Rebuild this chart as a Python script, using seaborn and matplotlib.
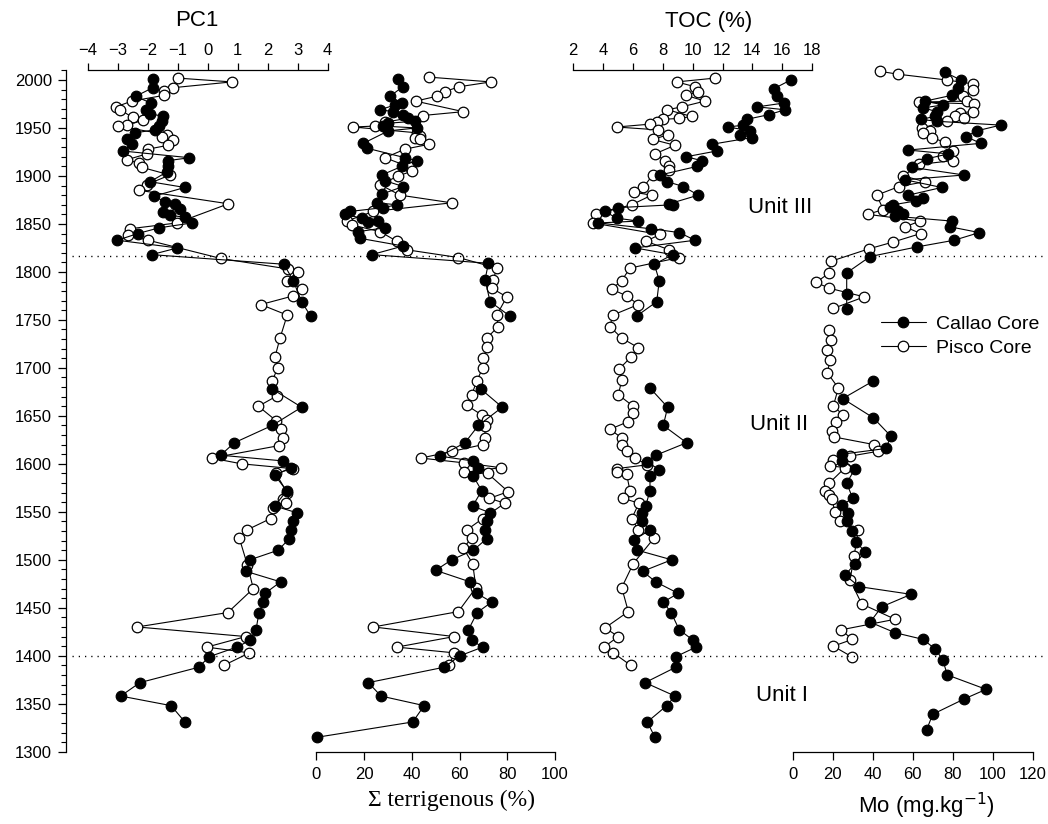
import numpy as np
import pandas as pd
import matplotlib
matplotlib.use("Agg")
import matplotlib.pyplot as plt
from matplotlib.lines import Line2D
from matplotlib.ticker import MultipleLocator
import seaborn as sns

nan = np.nan

# ---------------- DATA ----------------
# PC1
pc1_callao_year = [2001, 1992, 1983, 1976, 1969, 1965, 1962, 1957, 1952, 1948, 1945, 1939, 1933, 1926,
                   1919, 1916, 1910, 1904, 1894, 1888, 1879, 1873, 1871, 1866, 1862, 1859, 1857, 1851,
                   1846, 1840, 1833, 1825, 1818, 1808, 1791, 1769, 1754, 1720, 1678, 1659, 1640, 1622,
                   1609, 1603, 1596, 1588, 1572, 1556, 1549, 1540, 1531, 1522, 1510, 1500, 1488, 1477,
                   1465, 1456, 1445, 1427, 1416, 1409, 1399, 1388, 1372, 1358, 1348, 1331]
pc1_callao = [-1.83, -1.83, -2.40, -1.90, -2.07, -1.92, -1.48, -1.53, -1.61, -1.76, -2.42, -2.70, -2.51, -2.83,
              -0.61, -1.31, -1.31, -1.37, -1.92, -0.76, -1.79, -1.42, -1.09, -0.92, -1.48, -1.26, -0.76, -0.53,
              -1.61, -2.33, -3.01, -1.01, -1.87, 2.54, 2.85, 3.13, 3.43, nan, 2.15, 3.13, 2.15, 0.89,
              0.43, 2.52, 2.77, 2.24, 2.63, 2.24, 2.97, 2.85, 2.77, 2.72, 2.35, 1.41, 1.27, 2.43,
              1.91, 1.85, 1.71, 1.61, 1.41, 0.97, 0.05, -0.30, -2.26, -2.90, -1.22, -0.76]
pc1_pisco_year = [2002, 1998, 1992, 1989, 1984, 1978, 1972, 1969, 1961, 1958, 1953, 1952, 1943, 1941,
                  1937, 1932, 1928, 1923, 1917, 1913, 1909, 1901, 1891, 1885, 1871, 1851, 1845, 1838,
                  1833, 1814, 1803, 1800, 1791, 1782, 1775, 1766, 1755, 1731, 1711, 1700, 1686, 1671,
                  1660, 1645, 1636, 1627, 1619, 1606, 1600, 1595, 1590, 1570, 1563, 1559, 1554, 1543,
                  1531, 1523, 1495, 1470, 1445, 1430, 1420, 1409, 1403, 1390]
pc1_pisco = [-1.00, 0.80, -1.15, -1.46, -1.46, -2.53, -3.06, -2.92, -2.50, -2.15, -2.70, -2.98, -1.37, -1.53,
             -1.15, -1.31, -1.98, -2.03, -2.68, -2.28, -2.20, -1.26, -2.03, -2.28, 0.69, -1.03, -2.59, -2.67,
             -1.98, 0.44, 2.69, 3.00, 2.65, 3.13, 2.85, 1.77, 2.65, 2.41, 2.24, 2.33, 2.15, 2.32,
             1.69, 2.28, 2.43, 2.52, 2.38, 0.13, 1.13, 2.83, 2.27, 2.65, 2.50, 2.61, 2.17, 2.10,
             1.30, 1.05, 1.32, 1.52, 0.67, -2.35, 1.27, -0.03, 1.39, 0.54]

# Sum terrigenous (%)
terr_callao_year = [2001, 1993, 1983, 1976, 1974, 1969, 1967, 1964, 1960, 1957, 1955, 1952, 1950, 1947,
                    1934, 1929, 1919, 1916, 1910, 1901, 1895, 1889, 1881, 1872, 1870, 1867, 1863, 1860,
                    1856, 1853, 1852, 1846, 1842, 1835, 1827, 1818, 1809, 1792, 1769, 1754, 1720, 1678,
                    1659, 1640, 1622, 1608, 1603, 1596, 1587, 1572, 1556, 1549, 1540, 1531, 1522, 1510,
                    1500, 1489, 1477, 1465, 1456, 1445, 1427, 1416, 1409, 1400, 1388, 1372, 1358, 1348,
                    1331, 1315]
terr_callao = [34.4, 36.2, 30.9, 35.8, 33.0, 26.7, 32.3, 36.4, 38.5, 41.3, 30.2, 28.1, 42.0, 30.2,
               19.7, 21.1, 37.2, 42.0, 35.8, 27.4, 28.8, 36.4, 27.4, 25.3, 33.7, 28.1, 14.1, 12.0,
               19.0, 26.0, 21.8, 28.8, 17.6, 18.3, 36.4, 23.2, 72.1, 70.7, 72.8, 81.1, nan, 68.9,
               77.9, 67.9, 62.3, 51.8, 65.5, 67.9, 65.8, 69.3, 65.5, 72.8, 71.4, 70.7, 71.4, 65.8,
               56.7, 50.0, 64.4, 67.2, 73.5, 67.4, 63.7, 65.1, 69.7, 60.2, 53.5, 21.8, 27.1, 45.2,
               40.4, 0.2]
terr_pisco_year = [2003, 1998, 1993, 1988, 1983, 1978, 1967, 1963, 1956, 1952, 1951, 1945, 1942, 1940,
                   1938, 1933, 1928, 1919, 1909, 1905, 1900, 1891, 1880, 1872, 1863, 1853, 1849, 1842,
                   1832, 1823, 1815, 1804, 1792, 1783, 1774, 1755, 1743, 1731, 1722, 1710, 1700, 1686,
                   1672, 1661, 1651, 1646, 1639, 1627, 1620, 1613, 1606, 1601, 1596, 1591, 1590, 1571,
                   1564, 1559, 1543, 1531, 1523, 1512, 1496, 1471, 1446, 1430, 1420, 1409, 1403, 1390]
terr_pisco = [47.2, 73.1, 59.9, 53.9, 50.4, 41.6, 61.6, 44.6, 28.8, 24.6, 15.5, 42.0, 43.4, 41.3,
              43.4, 47.3, 37.2, 28.8, 39.3, 40.0, 34.4, 26.7, 35.1, 56.7, 23.9, 12.7, 14.8, 26.7,
              33.7, 38.1, 59.5, 75.6, 74.2, 73.5, 79.8, 75.6, 76.2, 71.4, 71.6, 70.0, 69.7, 67.2,
              65.1, 63.0, 69.3, 71.4, 70.7, 70.7, 69.7, 57.0, 43.9, 61.9, 77.3, 61.9, 71.8, 80.4,
              72.5, 79.0, 69.7, 63.0, 65.1, 61.6, 65.5, 66.9, 59.5, 23.9, 57.8, 33.7, 57.8, 55.7]

# TOC (%)
toc_callao_year = [2000, 1991, 1983, 1976, 1972, 1969, 1964, 1959, 1953, 1951, 1947, 1943, 1940, 1933,
                   1926, 1920, 1916, 1910, 1901, 1894, 1889, 1880, 1871, 1870, 1867, 1863, 1856, 1853,
                   1851, 1845, 1841, 1833, 1825, 1818, 1808, 1791, 1769, 1754, 1720, 1679, 1659, 1640,
                   1622, 1609, 1602, 1594, 1587, 1572, 1556, 1549, 1540, 1531, 1521, 1510, 1500, 1488,
                   1477, 1465, 1456, 1445, 1427, 1416, 1409, 1399, 1388, 1372, 1358, 1348, 1331, 1315]
toc_callao = [16.56, 15.44, 15.63, 16.11, 14.33, 16.18, 15.13, 13.62, 13.40, 12.39, 13.84, 13.17, 13.95, 11.28,
              11.61, 9.56, 10.61, 10.31, 7.82, 8.31, 9.38, 10.38, 8.44, 8.71, 5.03, 4.14, 4.92, 6.37,
              3.69, 7.20, 9.11, 10.16, 6.15, 8.67, 7.44, 7.77, 7.60, 6.26, nan, 7.15, 8.33, 8.04,
              9.60, 7.55, 6.97, 7.75, 7.15, 7.15, 6.86, 6.60, 6.60, 7.15, 6.10, 6.30, 8.60, 6.66,
              7.53, 9.04, 8.04, 8.56, 9.11, 10.05, 10.23, 8.87, 8.87, 6.82, 8.82, 8.27, 6.97, 7.48]
toc_pisco_year = [2002, 1998, 1993, 1988, 1984, 1978, 1972, 1969, 1962, 1960, 1959, 1956, 1954, 1951,
                  1948, 1943, 1938, 1932, 1923, 1916, 1910, 1906, 1901, 1888, 1883, 1880, 1870, 1860,
                  1851, 1839, 1832, 1823, 1815, 1804, 1791, 1782, 1775, 1766, 1755, 1743, 1731, 1721,
                  1711, 1699, 1687, 1672, 1660, 1653, 1644, 1636, 1627, 1620, 1613, 1606, 1599, 1595,
                  1592, 1589, 1572, 1564, 1559, 1543, 1531, 1523, 1496, 1471, 1446, 1429, 1420, 1409,
                  1403, 1390]
toc_pisco = [11.50, 8.94, 10.16, 10.38, 9.56, 10.83, 9.27, 8.31, 9.94, 9.11, 8.04, 7.64, 7.15, 4.92,
             7.71, 8.37, 7.33, 8.82, 7.48, 8.15, 8.44, 8.44, 7.33, 6.70, 6.08, 7.26, 5.93, 3.54,
             3.32, 7.82, 6.88, 8.44, 9.11, 5.81, 5.26, 4.59, 5.59, 6.37, 4.66, 4.47, 5.26, 6.37,
             5.86, 5.10, 5.26, 5.03, 6.03, 5.99, 5.70, 4.47, 5.26, 5.26, 5.59, 6.15, 6.97, 4.92,
             4.92, 5.59, 5.81, 5.36, 6.41, 5.93, 6.37, 7.44, 6.03, 5.26, 5.70, 4.14, 5.03, 4.07,
             4.70, 5.86]

# Mo (mg/kg)
mo_callao_year = [2008, 2000, 1992, 1984, 1978, 1974, 1971, 1967, 1962, 1959, 1957, 1953, 1947, 1941,
                  1934, 1927, 1923, 1918, 1909, 1901, 1896, 1888, 1880, 1877, 1874, 1870, 1868, 1863,
                  1860, 1858, 1853, 1847, 1841, 1833, 1826, 1816, 1799, 1777, 1761, 1720, 1686, 1668,
                  1648, 1629, 1616, 1610, 1603, 1595, 1580, 1564, 1557, 1549, 1540, 1530, 1519, 1508,
                  1496, 1484, 1472, 1464, 1451, 1435, 1424, 1417, 1407, 1396, 1380, 1365, 1355, 1339,
                  1323]
mo_callao = [76.2, 84.0, 82.8, 79.5, 66.2, 75.3, 65.3, 72.0, 71.2, 64.0, 72.0, 104.0, 92.0, 86.7,
             94.0, 57.8, 77.8, 67.3, 59.5, 85.7, 56.2, 74.5, 57.8, 65.0, 61.7, 50.3, 48.7, 52.8,
             55.3, 51.2, 79.5, 78.7, 93.3, 80.7, 62.0, 38.7, 27.0, 27.0, 27.0, nan, 40.0, 25.0,
             40.3, 49.0, 46.7, 24.5, 24.5, 31.2, 27.0, 30.0, 24.5, 27.8, 27.0, 29.5, 31.7, 36.2,
             31.2, 26.2, 33.3, 59.2, 44.5, 38.7, 51.2, 65.3, 71.2, 75.0, 77.3, 96.7, 85.8, 70.0,
             67.0]
mo_pisco_year = [2009, 2006, 2000, 1996, 1990, 1983, 1978, 1977, 1975, 1967, 1966, 1963, 1960, 1957,
                 1950, 1947, 1945, 1940, 1935, 1926, 1921, 1916, 1912, 1900, 1894, 1889, 1880, 1865,
                 1860, 1853, 1847, 1840, 1831, 1824, 1811, 1799, 1789, 1783, 1774, 1762, 1750, 1739,
                 1729, 1719, 1708, 1695, 1679, 1660, 1651, 1644, 1634, 1628, 1620, 1613, 1608, 1604,
                 1598, 1596, 1580, 1572, 1568, 1563, 1550, 1540, 1531, 1504, 1479, 1454, 1438, 1427,
                 1417, 1410, 1399]
mo_pisco = [43.7, 52.8, 77.0, 90.0, 90.3, 85.3, 87.0, 63.3, 90.7, 90.3, 83.7, 81.2, 85.7, 77.0,
            64.5, 68.7, 65.0, 69.5, 76.2, 80.3, 75.3, 80.0, 63.3, 55.3, 66.2, 53.2, 42.0, 45.3,
            37.5, 63.7, 56.2, 64.0, 50.0, 38.0, 19.0, 18.3, 11.7, 18.3, 35.8, 20.3, nan, 18.2,
            19.0, 17.0, 18.7, 17.3, 22.8, 20.3, 25.3, 21.7, 19.5, 20.7, 40.8, 42.5, 28.7, 20.3,
            18.7, 26.2, 18.3, 16.2, 18.3, 19.5, 21.2, 23.7, 32.8, 30.7, 28.7, 34.5, 51.2, 24.2,
            29.8, 20.3, 29.5]

unit_bounds = [1817, 1400]
unit_labels = ["Unit III", "Unit II", "Unit I"]
unit_label_years = [1867, 1641, 1359]
series_names = ["Callao Core", "Pisco Core"]

# ---------------- STYLE ----------------
sns.set_theme(style="ticks", rc={"axes.edgecolor": "black", "xtick.color": "black",
                                 "ytick.color": "black", "text.color": "black",
                                 "axes.labelcolor": "black"})
plt.rcParams["font.family"] = ["Liberation Sans", "DejaVu Sans"]

W, H = 1048, 824
TOP, BOT = 70.0, 751.7
YMIN, YMAX = 1300, 2000 + (80 - TOP) / ((BOT - 80) / 700)

fig = plt.figure(figsize=(W / 100, H / 100), dpi=100)


def make_ax(x0, x1):
    ax = fig.add_axes([x0 / W, 1 - BOT / H, (x1 - x0) / W, (BOT - TOP) / H])
    ax.patch.set_alpha(0)
    return ax


def finish(ax, xlim):
    ax.set_xlim(*xlim)
    ax.set_ylim(YMIN, YMAX)
    for s in ax.spines.values():
        s.set_visible(False)
        s.set_linewidth(0.9)
    ax.set_xlabel("")
    ax.set_ylabel("")
    ax.set_yticks([])
    ax.tick_params(axis="both", which="both", bottom=False, top=False, left=False, right=False,
                   labelbottom=False, labeltop=False, labelleft=False, labelright=False)


def draw(ax, years, vals, filled):
    df = pd.DataFrame({"year": years, "val": vals})
    df["seg"] = df["val"].isna().cumsum()
    df = df.dropna()
    sns.lineplot(data=df, x="val", y="year", units="seg", estimator=None, sort=False, ax=ax,
                 color="black", linewidth=0.8, marker="o", markersize=7.6,
                 markerfacecolor="black" if filled else "white",
                 markeredgecolor="black", markeredgewidth=0.9, legend=False, clip_on=False)


panels = [
    (66.0, 327.7, (-4 - 21.7 / 30, 4), pc1_callao_year, pc1_callao, pc1_pisco_year, pc1_pisco),
    (316.3, 555.0, (0, 100), terr_callao_year, terr_callao, terr_pisco_year, terr_pisco),
    (573.0, 812.2, (2, 18), toc_callao_year, toc_callao, toc_pisco_year, toc_pisco),
    (792.7, 1032.7, (0, 120), mo_callao_year, mo_callao, mo_pisco_year, mo_pisco),
]

axes = []
for x0, x1, xlim, cy, cv, py, pv in panels:
    ax = make_ax(x0, x1)
    draw(ax, py, pv, filled=False)
    draw(ax, cy, cv, filled=True)
    finish(ax, xlim)
    axes.append(ax)

ax_pc, ax_terr, ax_toc, ax_mo = axes

# PC1: left (year) axis and top axis
ax_pc.spines["left"].set_visible(True)
ax_pc.set_yticks(np.arange(1300, 2001, 50))
ax_pc.yaxis.set_minor_locator(MultipleLocator(10))
ax_pc.set_ylim(YMIN, YMAX)
ax_pc.tick_params(axis="y", which="major", left=True, labelleft=True, length=6, width=0.9,
                  direction="out", labelsize=12, pad=4)
ax_pc.tick_params(axis="y", which="minor", left=True, length=3.5, width=0.8, direction="out")
ax_pc.spines["top"].set_visible(True)
ax_pc.spines["top"].set_bounds(-4, 4)
ax_pc.set_xticks(np.arange(-4, 5, 1))
ax_pc.tick_params(axis="x", which="major", top=True, labeltop=True, length=5, width=0.9,
                  direction="out", labelsize=12, pad=4)

# TOC top axis
ax_toc.spines["top"].set_visible(True)
ax_toc.spines["top"].set_bounds(2, 18)
ax_toc.set_xticks(np.arange(2, 19, 2))
ax_toc.tick_params(axis="x", which="major", top=True, labeltop=True, length=5, width=0.9,
                   direction="out", labelsize=12, pad=4)

# Terrigenous bottom axis
ax_terr.spines["bottom"].set_visible(True)
ax_terr.spines["bottom"].set_bounds(0, 100)
ax_terr.set_xticks(np.arange(0, 101, 20))
ax_terr.tick_params(axis="x", which="major", bottom=True, labelbottom=True, length=6, width=0.9,
                    direction="out", labelsize=12, pad=5)

# Mo bottom axis
ax_mo.spines["bottom"].set_visible(True)
ax_mo.spines["bottom"].set_bounds(0, 120)
ax_mo.set_xticks(np.arange(0, 121, 20))
ax_mo.tick_params(axis="x", which="major", bottom=True, labelbottom=True, length=6, width=0.9,
                  direction="out", labelsize=12, pad=5)

# Overlay for unit boundaries
ov = fig.add_axes([0, 1 - BOT / H, 1, (BOT - TOP) / H])
ov.patch.set_alpha(0)
ov.set_xlim(0, W)
ov.set_ylim(YMIN, YMAX)
ov.axis("off")
ov.hlines(unit_bounds, 72, 1042, colors="black", linestyles=(0, (0.9, 3.6)), linewidth=1.0)
for lab, yr, xs in zip(unit_labels, unit_label_years, [748, 750, 756]):
    ov.text(xs, yr, lab, ha="left", va="center", fontsize=16)

# Axis titles
fig.text(197 / W, 1 - 21 / H, "PC1", ha="center", va="center", fontsize=16)
fig.text(709 / W, 1 - 22 / H, "TOC (%)", ha="center", va="center", fontsize=16)
fig.text(451 / W, 1 - 800 / H, "\u03a3 terrigenous (%)", ha="center", va="center", fontsize=17,
         family=["Liberation Serif", "DejaVu Serif"])
fig.text(926 / W, 1 - 806 / H, "Mo (mg.kg$^{-1}$)", ha="center", va="center", fontsize=16)

# Legend
handles = [
    Line2D([], [], color="black", linewidth=0.8, marker="o", markersize=7.6,
           markerfacecolor="black", markeredgecolor="black", markeredgewidth=0.9),
    Line2D([], [], color="black", linewidth=0.8, marker="o", markersize=7.6,
           markerfacecolor="white", markeredgecolor="black", markeredgewidth=0.9),
]
fig.legend(handles, series_names, loc="center left", bbox_to_anchor=(881 / W, 1 - 336 / H),
           frameon=False, fontsize=14, handlelength=2.3, handletextpad=0.55,
           labelspacing=0.35, borderpad=0, borderaxespad=0)

fig.savefig("out.png", dpi=100)
